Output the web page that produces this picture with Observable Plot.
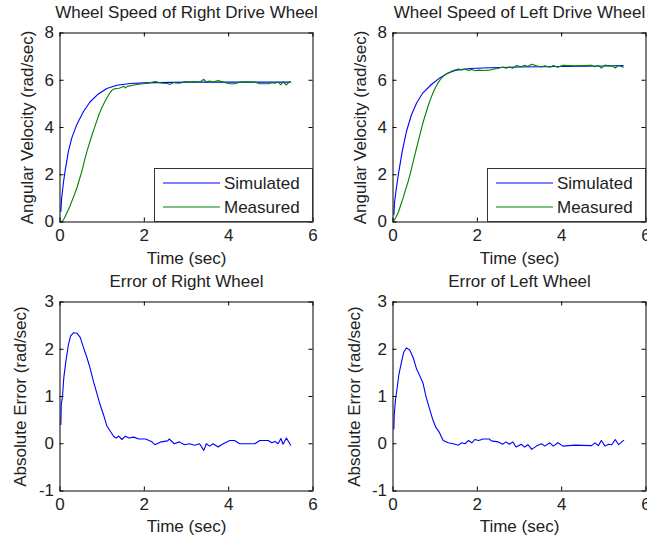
<!DOCTYPE html>
<html>
<head>
<meta charset="utf-8">
<script src="https://cdn.jsdelivr.net/npm/d3@7"></script>
<script src="https://cdn.jsdelivr.net/npm/@observablehq/plot@0.6"></script>
<style>
  html, body { margin: 0; padding: 0; background: #fff; overflow: hidden; }
  #fig { position: relative; width: 647px; height: 544px; background: #fff; }
  #fig > svg, #fig > div { position: absolute; }
</style>
</head>
<body>
<div id="fig"></div>
<script>
// ---------- data ----------
const xTicks = [0, 2, 4, 6];
const speedTicks = [0, 2, 4, 6, 8];
const errorTicks = [-1, 0, 1, 2, 3];

const titles = ["Wheel Speed of Right Drive Wheel", "Wheel Speed of Left Drive Wheel", "Error of Right Wheel", "Error of Left Wheel"];
const xLabel = "Time (sec)";
const speedLabel = "Angular Velocity (rad/sec)";
const errorLabel = "Absolute Error (rad/sec)";
const legendNames = ["Simulated", "Measured"];

// Right wheel – simulated
const rightSimT = [0.02, 0.04, 0.08, 0.12, 0.2, 0.28, 0.4, 0.56, 0.71, 0.91, 1.11, 1.35, 1.67, 2.0, 2.3, 3.0, 4.0, 5.0, 5.47];
const rightSimV = [0.45, 1.02, 1.65, 2.15, 3.0, 3.56, 4.13, 4.69, 5.08, 5.42, 5.65, 5.79, 5.86, 5.89, 5.9, 5.92, 5.92, 5.92, 5.92];
// Right wheel – measured
const rightMeasT = [0.04, 0.1, 0.16, 0.22, 0.28, 0.34, 0.4, 0.46, 0.52, 0.58, 0.64, 0.7, 0.75, 0.81, 0.87, 0.93, 0.99, 1.05, 1.11, 1.17, 1.23, 1.28, 1.33, 1.4, 1.47, 1.51, 1.55, 1.6, 1.7, 1.83, 1.95, 2.1, 2.22, 2.26, 2.35, 2.45, 2.55, 2.6, 2.7, 2.8, 2.9, 2.95, 3.07, 3.19, 3.31, 3.41, 3.47, 3.55, 3.63, 3.75, 3.87, 4.03, 4.14, 4.26, 4.45, 4.62, 4.74, 4.94, 5.02, 5.1, 5.17, 5.24, 5.29, 5.37, 5.45];
const rightMeasV = [0.0, 0.15, 0.38, 0.6, 0.88, 1.15, 1.44, 1.8, 2.15, 2.6, 3.0, 3.35, 3.63, 3.95, 4.27, 4.57, 4.83, 5.05, 5.25, 5.43, 5.57, 5.63, 5.65, 5.66, 5.7, 5.75, 5.68, 5.74, 5.78, 5.82, 5.85, 5.88, 5.93, 5.95, 5.9, 5.87, 5.86, 5.82, 5.9, 5.87, 5.9, 5.94, 5.92, 5.95, 5.92, 6.04, 5.93, 5.97, 5.92, 5.99, 5.92, 5.85, 5.85, 5.92, 5.93, 5.92, 5.85, 5.85, 5.9, 5.87, 5.92, 5.81, 5.93, 5.8, 5.95];

// Left wheel – simulated
const leftSimT = [0.02, 0.04, 0.08, 0.14, 0.22, 0.32, 0.44, 0.56, 0.71, 0.91, 1.11, 1.31, 1.51, 1.83, 2.3, 3.0, 4.0, 5.0, 5.46];
const leftSimV = [0.31, 0.88, 1.44, 2.15, 3.0, 3.84, 4.55, 5.04, 5.47, 5.82, 6.1, 6.31, 6.43, 6.5, 6.53, 6.56, 6.58, 6.6, 6.62];
// Left wheel – measured
const leftMeasT = [0.02, 0.07, 0.12, 0.18, 0.24, 0.3, 0.36, 0.42, 0.48, 0.54, 0.6, 0.66, 0.71, 0.77, 0.83, 0.89, 0.95, 1.01, 1.07, 1.13, 1.19, 1.25, 1.31, 1.39, 1.47, 1.55, 1.63, 1.71, 1.79, 1.87, 1.94, 2.03, 2.14, 2.29, 2.4, 2.49, 2.6, 2.68, 2.76, 2.84, 2.92, 3.04, 3.12, 3.2, 3.29, 3.4, 3.52, 3.6, 3.72, 3.8, 3.91, 4.03, 4.31, 4.71, 4.79, 4.87, 4.94, 5.03, 5.11, 5.19, 5.27, 5.35, 5.46];
const leftMeasV = [0.05, 0.2, 0.38, 0.7, 1.02, 1.38, 1.72, 2.12, 2.57, 3.0, 3.42, 3.85, 4.2, 4.55, 4.9, 5.2, 5.47, 5.7, 5.89, 6.05, 6.17, 6.25, 6.31, 6.38, 6.43, 6.48, 6.44, 6.47, 6.41, 6.46, 6.4, 6.43, 6.41, 6.43, 6.48, 6.5, 6.56, 6.51, 6.56, 6.51, 6.62, 6.57, 6.63, 6.58, 6.68, 6.61, 6.56, 6.61, 6.55, 6.62, 6.55, 6.63, 6.61, 6.63, 6.57, 6.63, 6.52, 6.64, 6.61, 6.62, 6.52, 6.63, 6.55];

// Error of right wheel
const rightErrT = [0.02, 0.03, 0.06, 0.09, 0.14, 0.2, 0.25, 0.32, 0.4, 0.48, 0.56, 0.64, 0.71, 0.79, 0.87, 0.95, 1.03, 1.11, 1.19, 1.27, 1.33, 1.39, 1.47, 1.55, 1.63, 1.75, 1.87, 2.03, 2.18, 2.25, 2.4, 2.55, 2.59, 2.71, 2.83, 2.95, 3.07, 3.19, 3.31, 3.41, 3.47, 3.55, 3.63, 3.75, 3.87, 4.03, 4.14, 4.26, 4.62, 4.74, 4.94, 5.02, 5.1, 5.17, 5.24, 5.29, 5.37, 5.47];
const rightErrV = [0.41, 0.83, 1.01, 1.4, 1.75, 2.1, 2.28, 2.35, 2.34, 2.25, 2.03, 1.82, 1.61, 1.33, 1.08, 0.83, 0.62, 0.38, 0.27, 0.16, 0.12, 0.16, 0.09, 0.16, 0.12, 0.14, 0.1, 0.1, 0.04, -0.02, 0.04, 0.06, 0.1, 0.0, 0.04, -0.02, 0.0, -0.03, 0.0, -0.14, 0.0, -0.05, 0.0, -0.07, 0.0, 0.07, 0.07, 0.0, 0.0, 0.07, 0.07, 0.02, 0.05, 0.0, 0.11, -0.01, 0.12, -0.03];

// Error of left wheel
const leftErrT = [0.02, 0.03, 0.06, 0.1, 0.14, 0.2, 0.25, 0.32, 0.4, 0.48, 0.56, 0.64, 0.71, 0.78, 0.86, 0.94, 1.02, 1.1, 1.19, 1.31, 1.43, 1.55, 1.63, 1.71, 1.79, 1.87, 1.94, 2.03, 2.14, 2.29, 2.33, 2.49, 2.6, 2.68, 2.76, 2.84, 2.92, 3.04, 3.12, 3.2, 3.29, 3.4, 3.52, 3.6, 3.72, 3.8, 3.91, 4.03, 4.31, 4.71, 4.79, 4.87, 4.94, 5.03, 5.11, 5.19, 5.27, 5.35, 5.47];
const leftErrV = [0.31, 0.62, 0.94, 1.19, 1.47, 1.72, 1.93, 2.03, 1.98, 1.82, 1.58, 1.43, 1.29, 1.01, 0.76, 0.52, 0.34, 0.24, 0.07, 0.02, 0.0, -0.03, 0.02, 0.0, 0.07, 0.02, 0.09, 0.07, 0.1, 0.1, 0.06, 0.04, -0.01, 0.04, -0.01, 0.04, -0.07, -0.01, -0.07, -0.02, -0.12, -0.05, 0.0, -0.05, 0.02, -0.05, 0.02, -0.05, -0.03, -0.04, 0.02, -0.04, 0.07, -0.05, -0.01, -0.02, 0.09, -0.02, 0.07];

const simColor = "#0000ff";
const measColor = "#008000";

// ---------- drawing ----------
const fig = document.getElementById("fig");
const font = "'Liberation Sans', Arial, Helvetica, sans-serif";
const textColor = "#222";

function rows(t, v) { return t.map((d, i) => ({t: d, v: v[i]})); }

function panel(o) {
  const fw = o.width - o.mL - o.mR;
  const fh = o.height - o.mT - o.mB;
  const marks = [];
  for (const s of o.series) {
    marks.push(Plot.line(rows(s.t, s.v), {x: "t", y: "v", stroke: s.color, strokeWidth: 1.1}));
  }
  marks.push(
    Plot.tickX(xTicks, {x: d => d, stroke: "#000", insetTop: fh - 4}),
    Plot.tickX(xTicks, {x: d => d, stroke: "#000", insetBottom: fh - 4}),
    Plot.tickY(o.yTicks, {y: d => d, stroke: "#000", insetRight: fw - 4}),
    Plot.tickY(o.yTicks, {y: d => d, stroke: "#000", insetLeft: fw - 4}),
    Plot.frame({stroke: "#000", strokeWidth: 1}),
    Plot.axisX({ticks: xTicks, tickSize: 0, tickPadding: 7, label: null, tickFormat: d => String(d)}),
    Plot.axisY({ticks: o.yTicks, tickSize: 0, tickPadding: 6, label: null, tickFormat: d => String(d)}),
    Plot.text([o.title], {frameAnchor: "top", lineAnchor: "middle", textAnchor: "middle", dy: o.titleDy, text: d => d, fill: textColor}),
    Plot.text([xLabel], {frameAnchor: "bottom", lineAnchor: "middle", textAnchor: "middle", dy: o.xlabelDy, text: d => d, fill: textColor}),
    Plot.text([o.ylabel], {frameAnchor: "left", lineAnchor: "middle", textAnchor: "middle", dx: o.ylabelDx, rotate: -90, text: d => d, fill: textColor})
  );
  const svg = Plot.plot({
    width: o.width, height: o.height,
    marginLeft: o.mL, marginRight: o.mR, marginTop: o.mT, marginBottom: o.mB,
    x: {domain: [0, 6]},
    y: {domain: o.yDomain},
    style: {fontFamily: font, fontSize: "17px", color: textColor, background: "transparent", overflow: "visible"},
    marks
  });
  svg.style.left = o.left + "px";
  svg.style.top = o.top + "px";
  svg.style.maxWidth = "none";
  fig.appendChild(svg);
}

function legend(left, top) {
  const w = 158, h = 53;
  const svg = d3.create("svg").attr("width", w + 1).attr("height", h + 1)
    .style("position", "absolute").style("left", left + "px").style("top", top + "px").style("overflow", "visible");
  svg.append("rect").attr("x", 0.5).attr("y", 0.5).attr("width", w).attr("height", h)
    .attr("fill", "#fff").attr("stroke", "#333").attr("stroke-width", 1);
  const items = [{name: legendNames[0], color: simColor, y: 15}, {name: legendNames[1], color: measColor, y: 39}];
  for (const it of items) {
    svg.append("line").attr("x1", 9).attr("x2", 66).attr("y1", it.y).attr("y2", it.y)
      .style("stroke", it.color).attr("stroke-width", 1.1);
    svg.append("text").attr("x", 70).attr("y", it.y).attr("dy", "0.35em")
      .attr("font-family", font).attr("font-size", 17).attr("fill", textColor).text(it.name);
  }
  fig.appendChild(svg.node());
}

panel({left: 0, top: 0, width: 324, height: 272, mL: 59.5, mR: 11.5, mT: 32.5, mB: 50.5,
  yDomain: [0, 8], yTicks: speedTicks, title: titles[0], titleDy: -20, ylabel: speedLabel, ylabelDx: -32.5, xlabelDy: 37,
  series: [{t: rightSimT, v: rightSimV, color: simColor}, {t: rightMeasT, v: rightMeasV, color: measColor}]});
panel({left: 324, top: 0, width: 323, height: 272, mL: 68.5, mR: 1.5, mT: 32.5, mB: 50.5,
  yDomain: [0, 8], yTicks: speedTicks, title: titles[1], titleDy: -20, ylabel: speedLabel, ylabelDx: -32.5, xlabelDy: 37,
  series: [{t: leftSimT, v: leftSimV, color: simColor}, {t: leftMeasT, v: leftMeasV, color: measColor}]});
panel({left: 0, top: 272, width: 324, height: 272, mL: 59.5, mR: 11.5, mT: 29.5, mB: 53.5,
  yDomain: [-1, 3], yTicks: errorTicks, title: titles[2], titleDy: -20, ylabel: errorLabel, ylabelDx: -39, xlabelDy: 36,
  series: [{t: rightErrT, v: rightErrV, color: simColor}]});
panel({left: 324, top: 272, width: 323, height: 272, mL: 68.5, mR: 1.5, mT: 29.5, mB: 53.5,
  yDomain: [-1, 3], yTicks: errorTicks, title: titles[3], titleDy: -20, ylabel: errorLabel, ylabelDx: -38.5, xlabelDy: 36,
  series: [{t: leftErrT, v: leftErrV, color: simColor}]});

legend(154, 168);
legend(487, 168);
</script>
</body>
</html>
